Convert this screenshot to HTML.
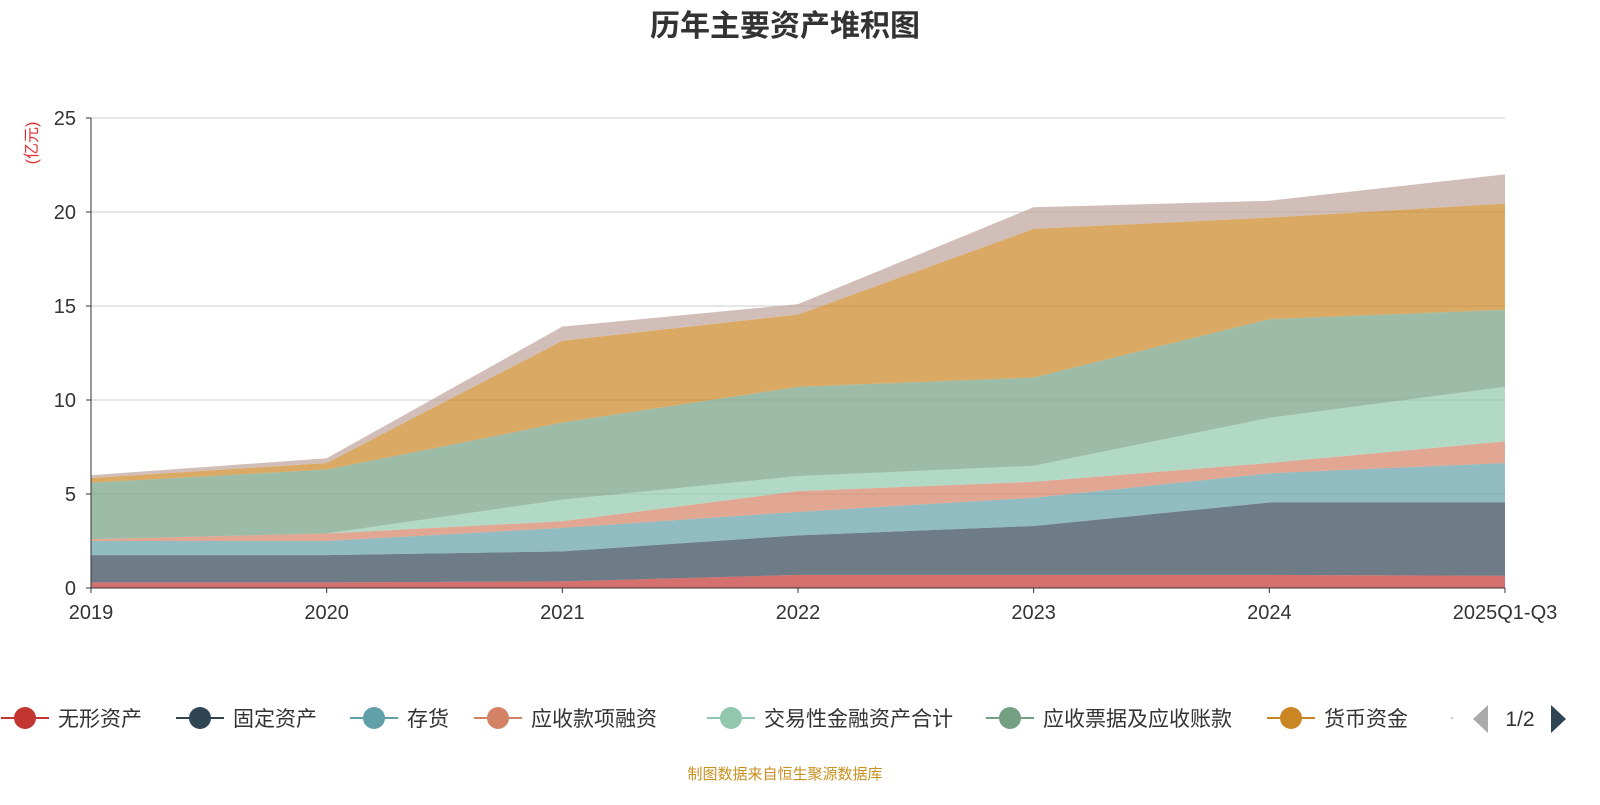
<!DOCTYPE html>
<html><head><meta charset="utf-8"><style>
body{margin:0;background:#fff;font-family:"Liberation Sans","Noto Sans CJK SC",sans-serif}
svg text{font-family:"Liberation Sans","Noto Sans CJK SC",sans-serif}
</style></head><body>
<svg id="c" width="1600" height="800">
<text x="785" y="36" text-anchor="middle" font-size="30" font-weight="bold" fill="#333">历年主要资产堆积图</text>
<text transform="translate(37,143) rotate(-90)" text-anchor="middle" font-size="16" fill="#e03030">(亿元)</text>
<g id="grid"></g><g id="areas"></g><g id="axes"></g><g id="legend"></g>
<text x="785" y="779" text-anchor="middle" font-size="15" fill="#c8901f">制图数据来自恒生聚源数据库</text>
</svg>
<script>
const categories=["2019","2020","2021","2022","2023","2024","2025Q1-Q3"];
const seriesNames=["无形资产","固定资产","存货","应收款项融资","交易性金融资产合计","应收票据及应收账款","货币资金","其他"];
const s0=[0.3,0.3,0.35,0.7,0.7,0.7,0.65];
const s1=[1.45,1.45,1.6,2.1,2.6,3.85,3.9];
const s2=[0.75,0.75,1.25,1.25,1.5,1.55,2.1];
const s3=[0.1,0.4,0.35,1.1,0.85,0.55,1.15];
const s4=[0,0,1.15,0.8,0.85,2.4,2.9];
const s5=[3.0,3.4,4.1,4.75,4.7,5.25,4.1];
const s6=[0.25,0.35,4.35,3.85,7.9,5.4,5.65];
const s7=[0.15,0.25,0.75,0.55,1.15,0.9,1.55];
const yTicks=[0,5,10,15,20,25];
const series=[s0,s1,s2,s3,s4,s5,s6,s7];
const colors=["#c23531","#2f4554","#61a0a8","#d48265","#91c7ae","#749f83","#ca8622","#bda29a"];
const NS="http://www.w3.org/2000/svg";
const x0=91,x1=1505,y0=588,y1=118,ymax=25;
const X=i=>x0+i*(x1-x0)/(categories.length-1);
const Y=v=>y0-v*(y0-y1)/ymax;
function mk(t,a,p){const e=document.createElementNS(NS,t);for(const k in a)e.setAttribute(k,a[k]);p.appendChild(e);return e;}
const grid=document.getElementById('grid'),axes=document.getElementById('axes'),areas=document.getElementById('areas'),leg=document.getElementById('legend');
yTicks.forEach(t=>{
 if(t>0){const l=mk('line',{x1:x0,x2:x1,y1:Y(t),y2:Y(t),stroke:'#ccc'},grid);
 
 }
 const tx=mk('text',{x:76,y:Y(t)+7,'text-anchor':'end','font-size':20,fill:'#333'},axes);tx.textContent=t;
 
 
 mk('line',{x1:x0-5,x2:x0,y1:Y(t),y2:Y(t),stroke:'#333'},axes);
});
let cum=categories.map(()=>0);
series.forEach((s,k)=>{
 const lo=cum.slice();cum=cum.map((c,i)=>c+s[i]);
 let d='M'+categories.map((c,i)=>X(i)+','+Y(cum[i])).join('L');
 for(let i=categories.length-1;i>=0;i--)d+='L'+X(i)+','+Y(lo[i]);
 const p=mk('path',{d:d+'Z',fill:colors[k],'fill-opacity':0.7,stroke:'none'},areas);
 
 
});
mk('line',{x1:x0,x2:x0,y1:y1,y2:y0,stroke:'#333'},axes);
mk('line',{x1:x0,x2:x1,y1:y0,y2:y0,stroke:'#333'},axes);
categories.forEach((c,i)=>{
 mk('line',{x1:X(i),x2:X(i),y1:y0,y2:y0+5,stroke:'#333'},axes);
 const t=mk('text',{x:X(i),y:619,'text-anchor':'middle','font-size':20,fill:'#333'},axes);t.textContent=c;
 
 
});
const lx=[25,200,374,498,731,1010,1291];
lx.forEach((x,k)=>{
 const g=mk('g',{},leg);
 
 
 mk('line',{x1:x-24,x2:x+24,y1:718,y2:718,stroke:colors[k],'stroke-width':2},g);
 mk('circle',{cx:x,cy:718,r:11,fill:colors[k]},g);
 const t=mk('text',{x:x+33,y:726,'font-size':21,fill:'#333'},g);t.textContent=seriesNames[k];
});
mk('circle',{cx:1452,cy:718,r:1,fill:'#bbb'},leg);
const pp=mk('path',{d:'M1488,705L1488,733L1473,719Z',fill:'#aaa'},leg);


const pt=mk('text',{x:1520,y:726,'text-anchor':'middle','font-size':21,fill:'#333'},leg);pt.textContent='1/2';
const pn=mk('path',{d:'M1551,705L1551,733L1566,719Z',fill:'#2f4554'},leg);


</script>
</body></html>
